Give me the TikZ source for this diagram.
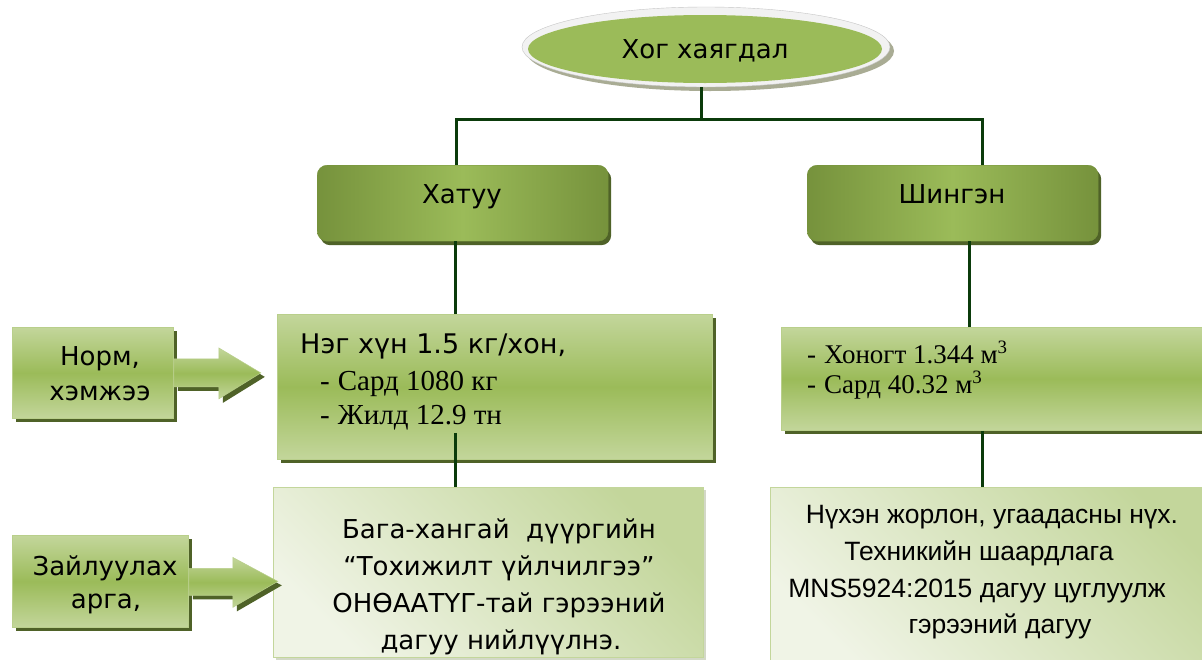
\documentclass[tikz,border=0pt]{standalone}
\usepackage{fontspec}
\setmainfont{DejaVu Sans}
\newfontfamily\arialf{Liberation Sans}
\newfontfamily\timesf{Liberation Serif}
\usetikzlibrary{shapes.geometric,shadows}
\definecolor{gmid}{HTML}{9BBB59}
\definecolor{glight}{HTML}{C3D69B}
\definecolor{gpale}{HTML}{F0F4E6}
\definecolor{gdark}{HTML}{76923C}
\definecolor{gshadow}{HTML}{4F6228}
\definecolor{lineg}{HTML}{0B3B0B}
\definecolor{rimc}{HTML}{F2F2F2}
\definecolor{rimshadow}{HTML}{A9AC94}
\begin{document}
\begin{tikzpicture}[x=1pt,y=-1pt,
  conn/.style={draw=lineg, line width=3pt},
  darkbox/.style={rectangle, rounded corners=10pt, inner sep=0pt, anchor=north west,
    left color=gdark, right color=gdark, middle color=gmid, draw=gdark, line width=0.4pt,
    drop shadow={shadow xshift=3pt, shadow yshift=-4pt, fill=gshadow, opacity=1}},
  midbox/.style={rectangle, inner sep=0pt, anchor=north west,
    top color=glight, bottom color=glight, middle color=gmid, draw=gmid!70!white, line width=0.8pt,
    drop shadow={shadow xshift=4pt, shadow yshift=-4pt, fill=gshadow, opacity=1}},
  palebox/.style={rectangle, inner sep=0pt, anchor=north west,
    top color=glight, bottom color=gpale, shading angle=-45, draw=glight, line width=0.8pt,
    drop shadow={shadow xshift=3pt, shadow yshift=-3pt, fill=glight!60!gray, opacity=0.5}},
  blockarrow/.style={top color=glight, bottom color=glight, middle color=gmid, draw=gmid!70!white, line width=0.5pt,
    drop shadow={shadow xshift=4pt, shadow yshift=-4pt, fill=gshadow, opacity=1}},
  sans/.style={font=\fontsize{26}{30}\selectfont, inner sep=0pt, anchor=base},
  serif/.style={font=\timesf\fontsize{29}{32}\selectfont, inner sep=0pt, anchor=base west},
  serifr/.style={font=\timesf\fontsize{27}{32}\selectfont, inner sep=0pt, anchor=base west},
  arial/.style={font=\arialf\fontsize{26.5}{30}\selectfont, inner sep=0pt, anchor=base}
]
\useasboundingbox (0,0) rectangle (1202,659);
\clip (0,0) rectangle (1202,659);
\fill[white] (0,0) rectangle (1202,659);

% top ellipse
\fill[rimshadow] (710,51) ellipse [x radius=184, y radius=40];
\node[ellipse, fill=rimc, draw=gray!45, minimum width=368pt, minimum height=80pt, inner sep=0pt] (top) at (706,47) {};
\node[ellipse, fill=gmid, minimum width=354pt, minimum height=68pt, inner sep=0pt] (topin) at ([xshift=-1pt,yshift=-2pt]top.center) {};
\node[sans] (tTop) at (705,58) {Хог хаягдал};

% level 2
\node[darkbox, minimum width=291pt, minimum height=76pt] (hatuu) at (317,165) {};
\node[darkbox, minimum width=291pt, minimum height=76pt] (shingen) at (807,165) {};
\node[sans] (tHatuu) at (462,203) {Хатуу};
\node[sans] (tShingen) at (952,203) {Шингэн};

% level 3
\node[midbox, minimum width=435pt, minimum height=145pt] (box1) at (277,314) {};
\node[midbox, minimum width=450pt, minimum height=103pt] (box2) at (781,327) {};
\node[sans, anchor=base west, font=\fontsize{27}{30}\selectfont] (t1a) at (300,353) {Нэг хүн 1.5 кг/хон,};
\node[serif] (t1b) at (320,390) {-\hspace{8pt}Сард 1080 кг};
\node[serif] (t1c) at (320,424) {-\hspace{8pt}Жилд 12.9 тн};
\node[serifr] (t2a) at (807,363) {-\hspace{8pt}Хоногт 1.344 м\textsuperscript{3}};
\node[serifr] (t2b) at (807,393) {-\hspace{8pt}Сард 40.32 м\textsuperscript{3}};

% level 4
\node[palebox, minimum width=430pt, minimum height=170pt] (box3) at (273,487) {};
\node[palebox, minimum width=460pt, minimum height=185pt] (box4) at (770,487) {};
\node[sans] (t3a) at (499,538) {Бага-хангай\ \ дүүргийн};
\node[sans] (t3b) at (499,575) {“Тохижилт үйлчилгээ”};
\node[sans] (t3c) at (499,612) {ОНӨААТҮГ-тай гэрээний};
\node[sans] (t3d) at (501,649) {дагуу нийлүүлнэ.};
\node[arial] (t4a) at (992,523) {Нүхэн жорлон, угаадасны нүх.};
\node[arial] (t4b) at (979,560) {Техникийн шаардлага};
\node[arial] (t4c) at (977,597) {MNS5924:2015 дагуу цуглуулж};
\node[arial] (t4d) at (1000,633) {гэрээний дагуу};

% side boxes
\node[midbox, minimum width=161pt, minimum height=91pt] (norm) at (12,327) {};
\node[midbox, minimum width=176pt, minimum height=92pt] (zail) at (12,535) {};
\node[sans] (tNa) at (100,365) {Норм,};
\node[sans] (tNb) at (100,400) {хэмжээ};
\node[sans] (tZa) at (105,575) {Зайлуулах};
\node[sans] (tZb) at (106,608) {арга,};

% block arrows
\path[blockarrow] (norm.east) ++(0,-14) -- ++(45,0) -- ++(0,-11) -- ++(42,25) -- ++(-42,26) -- ++(0,-12) -- ++(-45,0) -- cycle;
\path[blockarrow] (zail.east) ++(0,-13) -- ++(44,0) -- ++(0,-11) -- ++(45,24) -- ++(-45,26) -- ++(0,-12) -- ++(-44,0) -- cycle;

% connectors
\coordinate (j0) at ([xshift=-5pt]top.south);
\draw[conn] (j0) -- ++(0,32) coordinate (j1);
\draw[conn] (j1) -| ([xshift=-6.5pt]hatuu.north);
\draw[conn] (j1) -| ([xshift=29.5pt]shingen.north);
\coordinate (lx) at ([xshift=-7pt]hatuu.south);
\coordinate (c1) at (lx |- box1.north);
\coordinate (c2) at (lx |- box1.south);
\coordinate (c3) at (lx |- box3.north);
\draw[conn] (lx) -- (c1);
\draw[conn] ([yshift=27pt]c2) -- (c3);
\coordinate (rx) at ([xshift=16.5pt]shingen.south);
\coordinate (d1) at (rx |- box2.north);
\draw[conn] (rx) -- (d1);
\coordinate (ry) at ([xshift=-24pt]box2.south);
\coordinate (d2) at (ry |- box4.north);
\draw[conn] (ry) -- (d2);
\end{tikzpicture}
\end{document}
